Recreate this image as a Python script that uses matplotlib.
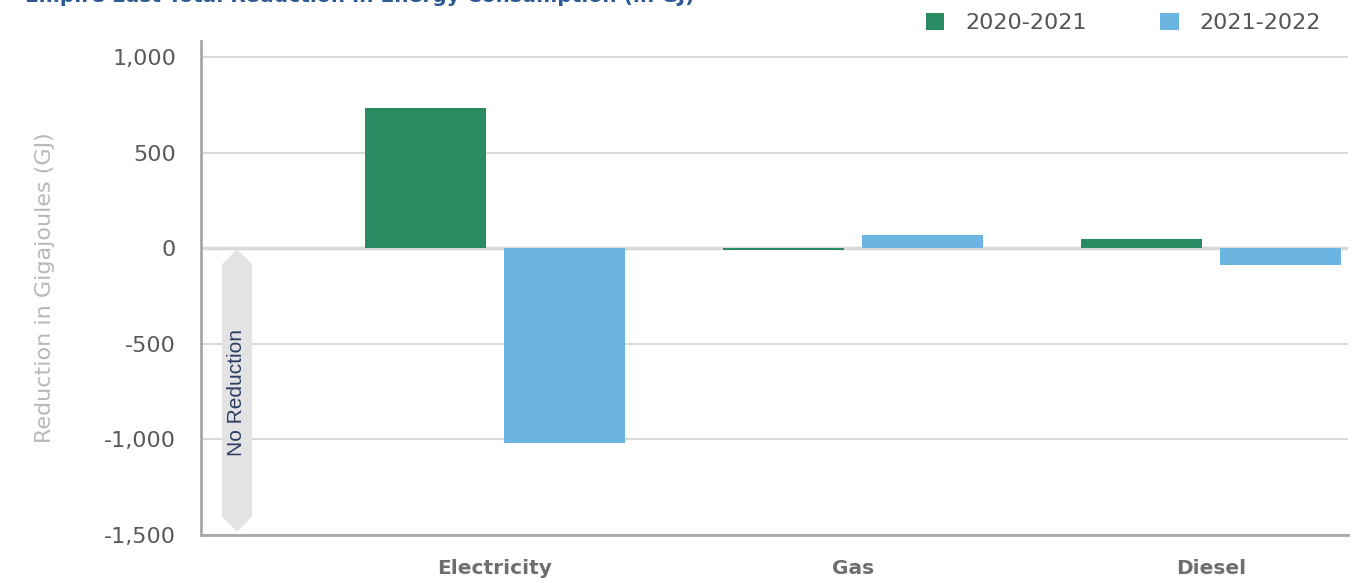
import numpy as np
import matplotlib.pyplot as plt
from matplotlib.patches import Polygon, Patch
import matplotlib.transforms as mtransforms
from matplotlib.ticker import FuncFormatter

categories = ["Electricity", "Gas", "Diesel"]
periods = ["2020-2021", "2021-2022"]
reduction_2020_2021 = [735, -10, 47]
reduction_2021_2022 = [-1020, 68, -89]
yticks = [-1500, -1000, -500, 0, 500, 1000]

green = "#2a8a62"
blue = "#6cb4e2"

plt.rcParams["font.family"] = ["DejaVu Sans"]

fig = plt.figure(figsize=(13.58, 5.83), dpi=100)
ax = fig.add_axes([0.148, 0.0823, 0.8446, 0.8474])

x = np.arange(len(categories))
barWidth = 0.338
offset = 0.194
ax.bar(x - offset, reduction_2020_2021, width=barWidth, color=green, zorder=3)
ax.bar(x + offset, reduction_2021_2022, width=barWidth, color=blue, zorder=3)

ax.set_xlim(-0.821, 2.383)
ax.set_ylim(-1500, 1084)
ax.set_yticks(yticks)
ax.yaxis.set_major_formatter(FuncFormatter(lambda v, p: "{:,.0f}".format(v)))
ax.set_xticks(x)
ax.set_xticklabels(categories, fontsize=14.5, fontweight="bold", color="#6e6e6e")
ax.tick_params(axis="both", length=0)
ax.tick_params(axis="y", labelsize=16, labelcolor="#5a5a5a", pad=18)
ax.tick_params(axis="x", pad=17)

ax.grid(axis="y", color="#dadada", linewidth=1.5, zorder=0)
ax.axhline(0, color="#d6d6d6", linewidth=2.5, zorder=1)
for side in ["top", "right"]:
    ax.spines[side].set_visible(False)
for side in ["left", "bottom"]:
    ax.spines[side].set_color("#a8a8a8")
    ax.spines[side].set_linewidth(2)

ax.set_ylabel("Reduction in Gigajoules (GJ)", fontsize=16, color="#b8b8b8", labelpad=35)

# "No Reduction" band down the left side
trans = mtransforms.blended_transform_factory(ax.transAxes, ax.transData)
x0, x1, xc = 0.0183, 0.0445, 0.0314
band = Polygon([(xc, -5), (x1, -84), (x1, -1404), (xc, -1483), (x0, -1404), (x0, -84)],
               closed=True, transform=trans, facecolor="#e3e3e3", edgecolor="none", zorder=2)
ax.add_patch(band)
ax.text(xc, -752, "No Reduction", transform=trans, rotation=90, ha="center", va="center",
        fontsize=15, color="#2c3d63", zorder=4, family=["Liberation Sans"])

handles = [Patch(facecolor=green, label=periods[0]), Patch(facecolor=blue, label=periods[1])]
fig.legend(handles=handles, loc="upper right", bbox_to_anchor=(0.9875, 1.012), ncol=2,
           frameon=False, fontsize=16, handlelength=0.82, handleheight=0.82,
           handletextpad=0.95, columnspacing=3.3, labelcolor="#555555")

fig.text(25 / 1358, 1 - 2.5 / 583, "Empire East Total Reduction in Energy Consumption (in GJ)",
         fontsize=14.5, fontweight="bold", color="#2b5a94", va="baseline", ha="left")

fig.savefig("out.png", dpi=100)
